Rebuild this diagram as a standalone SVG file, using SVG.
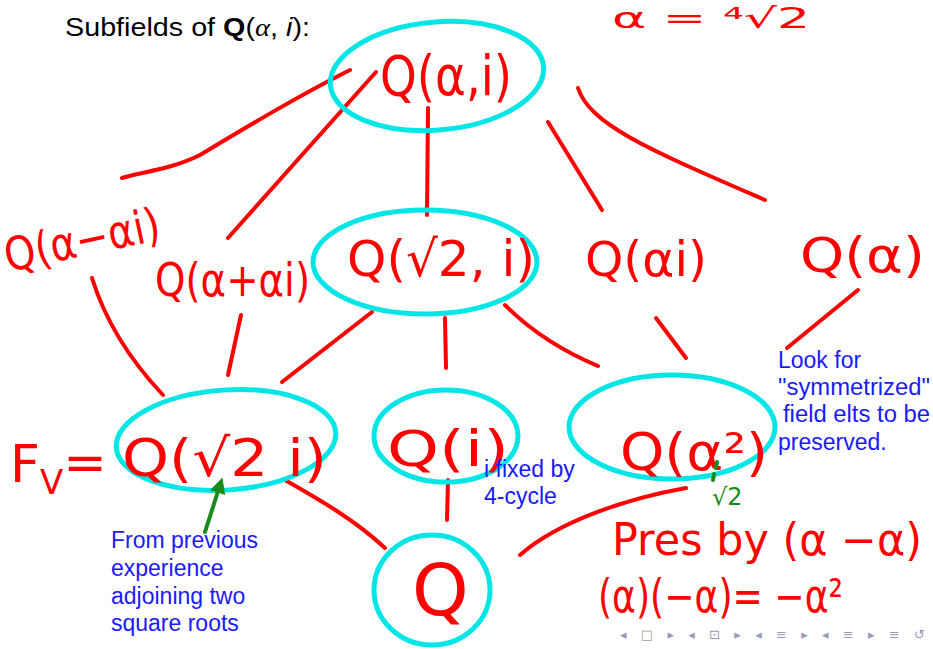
<svg xmlns="http://www.w3.org/2000/svg" width="933" height="649" viewBox="0 0 933 649">
<style>
.hw{font-family:"DejaVu Sans","Liberation Sans",sans-serif;fill:#ff0000;}
.blue{font-family:"Liberation Sans",Arial,sans-serif;fill:#1a1aff;font-size:23px;}
.ring{fill:none;stroke:#00e6e6;stroke-width:5;}
.edge{fill:none;stroke:#ff0000;stroke-width:4;stroke-linecap:round;stroke-linejoin:round;}
.grn{fill:none;stroke:#1a8a1a;stroke-width:4;stroke-linecap:round;}
</style>
<defs>
<marker id="ah" viewBox="0 0 10 10" refX="5" refY="5" markerWidth="4" markerHeight="4" orient="auto">
<path d="M0,0 L10,5 L0,10 z" fill="#1a8a1a"/>
</marker>
</defs>
<rect width="933" height="649" fill="#ffffff"/>
<text x="65" y="36" style="font-family:'Liberation Sans',Arial,sans-serif;font-size:25px;fill:#000" textLength="245" lengthAdjust="spacingAndGlyphs">Subfields of <tspan font-weight="bold">Q</tspan>(<tspan font-style="italic" font-family="Liberation Serif">α</tspan>, <tspan font-style="italic">i</tspan>):</text>
<text class="hw" x="612" y="28" font-size="28" textLength="198" lengthAdjust="spacingAndGlyphs">α = ⁴√2</text>

<g id="connectors">
<path class="edge" d="M350,70 C300,95 250,125 200,155 C170,170 140,172 122,178"/>
<path class="edge" d="M376,72 L228,238"/>
<path class="edge" d="M428,108 L427,215"/>
<path class="edge" d="M548,122 L602,210"/>
<path class="edge" d="M578,88 C590,125 650,150 765,200"/>
<path class="edge" d="M92,278 C105,320 130,360 163,395"/>
<path class="edge" d="M241,315 L228,375"/>
<path class="edge" d="M372,312 L282,382"/>
<path class="edge" d="M445,318 L446,368"/>
<path class="edge" d="M505,305 C530,330 560,350 598,366"/>
<path class="edge" d="M656,318 L686,358"/>
<path class="edge" d="M858,290 L787,348"/>
<path class="edge" d="M285,480 C320,500 355,520 385,548"/>
<path class="edge" d="M448,480 L447,520"/>
<path class="edge" d="M520,555 C560,520 630,498 686,488"/>
</g>

<g id="n-top">
<ellipse class="ring" cx="437" cy="76" rx="107" ry="54" transform="rotate(-5 437 76)"/>
<text class="hw" x="380" y="95" font-size="56" textLength="132" lengthAdjust="spacingAndGlyphs">Q(α,i)</text>
</g>
<g id="n-a-minus-ai">
<text class="hw" x="8" y="272" font-size="46" textLength="158" lengthAdjust="spacingAndGlyphs" transform="rotate(-12 8 272)">Q(α−αi)</text>
</g>
<g id="n-a-plus-ai">
<text class="hw" x="155" y="296" font-size="46" textLength="155" lengthAdjust="spacingAndGlyphs">Q(α+αi)</text>
</g>
<g id="n-sqrt2-i">
<ellipse class="ring" cx="425" cy="262" rx="112" ry="52"/>
<text class="hw" x="347" y="276" font-size="50" textLength="188" lengthAdjust="spacingAndGlyphs">Q(√2, i)</text>
</g>
<g id="n-ai">
<text class="hw" x="585" y="276" font-size="48" textLength="122" lengthAdjust="spacingAndGlyphs">Q(αi)</text>
</g>
<g id="n-a">
<text class="hw" x="800" y="272" font-size="48" textLength="125" lengthAdjust="spacingAndGlyphs">Q(α)</text>
</g>
<g id="n-fv">
<ellipse class="ring" cx="226" cy="440" rx="110" ry="50" transform="rotate(-4 226 440)"/>
<text class="hw" x="122" y="476" font-size="52" textLength="205" lengthAdjust="spacingAndGlyphs">Q(√2 i)</text>
<text class="hw" x="10" y="482" font-size="52">F<tspan font-size="34" dy="12">V</tspan><tspan dy="-14">=</tspan></text>
</g>
<g id="n-i">
<ellipse class="ring" cx="446" cy="436" rx="72" ry="46"/>
<text class="hw" x="387" y="466" font-size="50" textLength="122" lengthAdjust="spacingAndGlyphs">Q(i)</text>
</g>
<g id="n-a2">
<ellipse class="ring" cx="672" cy="427" rx="103" ry="52"/>
<text class="hw" x="620" y="470" font-size="52" textLength="148" lengthAdjust="spacingAndGlyphs">Q(α²)</text>
</g>
<g id="n-q">
<ellipse class="ring" cx="432" cy="590" rx="58" ry="55"/>
<text class="hw" x="412" y="615" font-size="72">Q</text>
</g>

<g id="notes">
<text class="blue" x="778" y="368">Look for</text>
<text class="blue" x="778" y="395" textLength="152" lengthAdjust="spacingAndGlyphs">"symmetrized"</text>
<text class="blue" x="783" y="422" textLength="147" lengthAdjust="spacingAndGlyphs">field elts to be</text>
<text class="blue" x="778" y="450">preserved.</text>
<text class="blue" x="484" y="477">i fixed by</text>
<text class="blue" x="484" y="504">4-cycle</text>
<text class="blue" x="111" y="548">From previous</text>
<text class="blue" x="111" y="576">experience</text>
<text class="blue" x="111" y="604">adjoining two</text>
<text class="blue" x="111" y="631">square roots</text>
<path class="grn" d="M205,532 L220,485" marker-end="url(#ah)"/>
<path class="grn" d="M717,462 L716,468 M714,474 L713,480"/>
<text x="712" y="505" style="font-family:'DejaVu Sans',sans-serif;font-size:24px;fill:#1a8a1a">√2</text>
<text class="hw" x="612" y="555" font-size="44" textLength="310" lengthAdjust="spacingAndGlyphs">Pres by (α −α)</text>
<text class="hw" x="598" y="612" font-size="46" textLength="245" lengthAdjust="spacingAndGlyphs">(α)(−α)= −α²</text>
<text x="620" y="639" style="font-family:'DejaVu Sans',sans-serif;font-size:13px;fill:#9a9ab8" textLength="305" lengthAdjust="spacing">◂ □ ▸ ◂ ⊡ ▸ ◂ ≡ ▸ ◂ ≡ ▸ ≡ ↺</text>
</g>
</svg>
